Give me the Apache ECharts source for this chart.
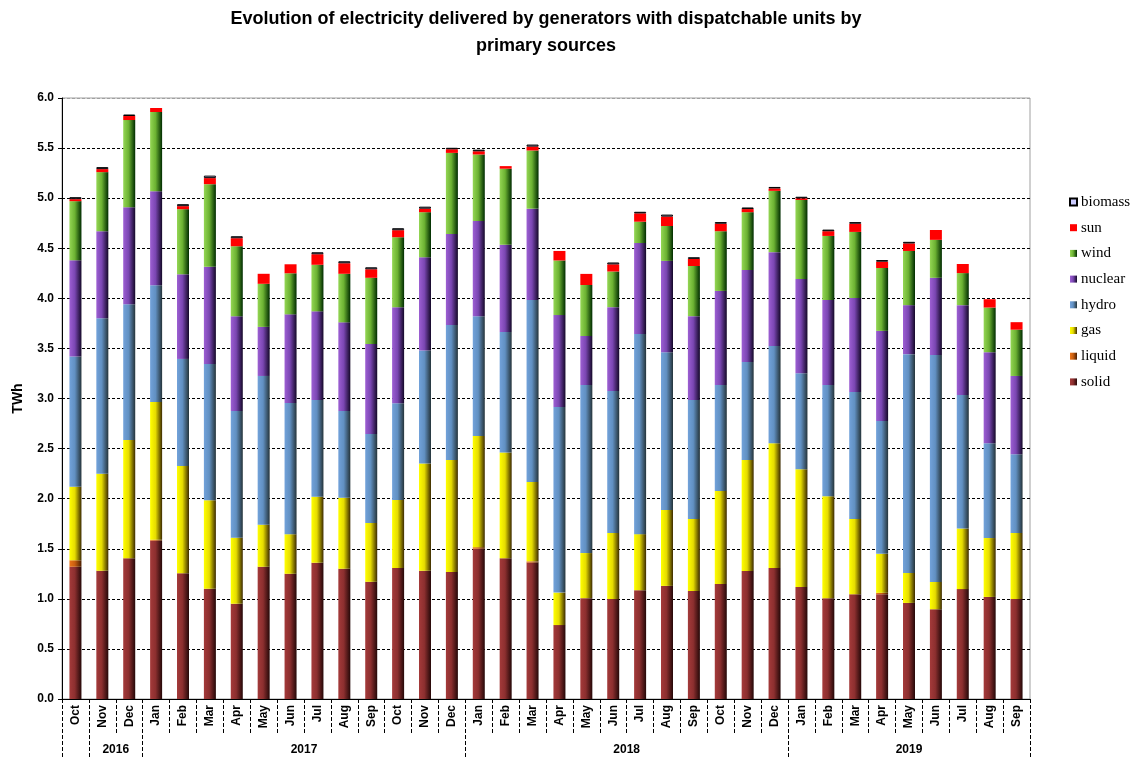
<!DOCTYPE html>
<html>
<head>
<meta charset="utf-8">
<script src="https://cdn.jsdelivr.net/npm/echarts@6/dist/echarts.min.js"></script>
<style>
html,body{margin:0;padding:0;background:#fff;}
#chart{width:1136px;height:758px;}
</style>
</head>
<body>
<div id="chart"></div>
<script>
// ---- DATA (TWh) ----
const months = ['Oct','Nov','Dec','Jan','Feb','Mar','Apr','May','Jun','Jul','Aug','Sep',
                'Oct','Nov','Dec','Jan','Feb','Mar','Apr','May','Jun','Jul','Aug','Sep',
                'Oct','Nov','Dec','Jan','Feb','Mar','Apr','May','Jun','Jul','Aug','Sep'];
const yearLabels = ['', '2016', '2017', '2018', '2019'];
const yearGroupStarts = [0, 1, 3, 15, 27];   // category index where each year group starts
const yearGroupEnd = 36;

const solid   = [1.32,1.28,1.405,1.58,1.255,1.10,0.95,1.32,1.25,1.36,1.30,1.17,
                 1.307,1.28,1.267,1.50,1.405,1.362,0.738,1.007,0.999,1.086,1.129,1.078,
                 1.149,1.279,1.307,1.117,1.007,1.046,1.046,0.959,0.896,1.097,1.019,0.999];
const liquid  = [0.065,0,0,0.01,0,0,0,0,0,0,0,0,
                 0,0,0,0.016,0,0.012,0,0,0,0,0,0,
                 0,0,0,0,0,0,0.014,0,0,0,0,0];
const gas     = [0.735,0.97,1.18,1.375,1.07,0.885,0.66,0.42,0.395,0.66,0.71,0.587,
                 0.679,1.07,1.118,1.109,1.055,0.793,0.324,0.45,0.659,0.56,0.758,0.718,
                 0.928,1.106,1.247,1.177,1.018,0.75,0.389,0.30,0.273,0.605,0.588,0.659];
const hydro   = [1.30,1.55,1.355,1.165,1.07,1.36,1.265,1.485,1.31,0.965,0.865,0.888,
                 0.967,1.13,1.35,1.195,1.203,1.816,1.852,1.678,1.417,1.998,1.575,1.189,
                 1.058,0.979,0.971,0.959,1.11,1.268,1.326,2.184,2.266,1.334,0.947,0.786];
const nuclear = [0.96,0.87,0.97,0.94,0.845,0.97,0.945,0.49,0.885,0.885,0.885,0.90,
                 0.959,0.93,0.908,0.953,0.873,0.912,0.919,0.489,0.837,0.908,0.912,0.837,
                 0.939,0.919,0.936,0.94,0.848,0.939,0.90,0.489,0.77,0.896,0.908,0.781];
const wind    = [0.59,0.59,0.87,0.79,0.65,0.825,0.70,0.43,0.41,0.465,0.485,0.66,
                 0.698,0.45,0.809,0.663,0.758,0.581,0.545,0.509,0.356,0.213,0.348,0.501,
                 0.596,0.577,0.612,0.789,0.64,0.66,0.628,0.541,0.379,0.32,0.446,0.462];
const sun     = [0.02,0.03,0.04,0.04,0.03,0.06,0.08,0.10,0.09,0.105,0.105,0.085,
                 0.07,0.035,0.036,0.032,0.026,0.039,0.095,0.111,0.071,0.083,0.094,0.071,
                 0.075,0.031,0.024,0.016,0.047,0.082,0.063,0.075,0.098,0.091,0.083,0.075];
const biomass = [0.02,0.02,0.015,0,0.02,0.025,0.02,0,0,0.02,0.02,0.02,
                 0.02,0.02,0.015,0.016,0,0.02,0,0,0.019,0.016,0.02,0.016,
                 0.016,0.016,0.015,0.016,0.016,0.016,0.016,0.016,0,0,0,0];

const yTicks = { min: 0, max: 6, interval: 0.5 };

// ---- STYLE ----
function grad(c0, c1, c2) {
  return new echarts.graphic.LinearGradient(0, 0, 1, 0, [
    { offset: 0, color: c0 }, { offset: 0.45, color: c1 }, { offset: 1, color: c2 }
  ]);
}
const FONT = '"Liberation Sans", Arial, sans-serif';
const seriesDefs = [
  { name: 'solid',   data: solid,   color: grad('#a43a3a', '#8c2f2f', '#250808') },
  { name: 'liquid',  data: liquid,  color: grad('#ec7418', '#c85e10', '#4a1e00') },
  { name: 'gas',     data: gas,     color: grad('#ffff00', '#e6dc00', '#3c2a00') },
  { name: 'hydro',   data: hydro,   color: grad('#72a2da', '#6190c2', '#25343a') },
  { name: 'nuclear', data: nuclear, color: grad('#9d5fd3', '#7a46b2', '#140828') },
  { name: 'wind',    data: wind,    color: grad('#94d654', '#6cb232', '#002c00') },
  { name: 'sun',     data: sun,     color: '#ff0000' },
  { name: 'biomass', data: biomass, color: '#ccccff', border: true }
];

const series = seriesDefs.map(d => ({
  name: d.name,
  type: 'bar',
  stack: 'total',
  barWidth: 12,
  xAxisIndex: 0,
  data: d.data.map(v => (v === 0 ? '-' : v)),
  itemStyle: d.border
    ? { color: d.color, borderColor: '#000', borderWidth: 1 }
    : { color: d.color },
  emphasis: { disabled: true }
}));

const yearCenters = {};
yearGroupStarts.forEach((s, i) => {
  const e = i + 1 < yearGroupStarts.length ? yearGroupStarts[i + 1] : yearGroupEnd;
  yearCenters[((s + e) / 2).toFixed(1)] = yearLabels[i];
});

const nSplit = Math.round((yTicks.max - yTicks.min) / yTicks.interval) + 1;
const splitColors = Array.from({ length: nSplit }, (_, i) => (i === nSplit - 1 ? '#a0a0a0' : '#000'));

const chart = echarts.init(document.getElementById('chart'), null, { renderer: 'canvas' });
chart.setOption({
  animation: false,
  backgroundColor: '#fff',
  title: {
    text: 'Evolution of electricity delivered by generators with dispatchable units by\nprimary sources',
    left: 541,
    top: 1,
    textAlign: 'center',
    textStyle: { fontFamily: FONT, fontWeight: 'bold', fontSize: 18, color: '#000', lineHeight: 27 }
  },
  legend: {
    orient: 'vertical',
    left: 1069,
    top: 194,
    padding: 0,
    itemWidth: 7,
    itemHeight: 7,
    itemGap: 9.7,
    icon: 'rect',
    data: ['biomass', 'sun', 'wind', 'nuclear', 'hydro', 'gas', 'liquid', 'solid'],
    textStyle: { fontFamily: '"Liberation Serif", "Times New Roman", serif', fontSize: 15, lineHeight: 16, color: '#000', padding: [0, 0, 0, -1] }
  },
  grid: {
    left: 62, right: 106, top: 98, bottom: 59,
    show: true, borderColor: '#a0a0a0', borderWidth: 1, backgroundColor: 'transparent'
  },
  xAxis: [
    {
      type: 'category',
      data: months,
      position: 'bottom',
      axisLine: { show: true, lineStyle: { color: '#000', width: 1 } },
      axisTick: { show: true, interval: 0, length: 36, lineStyle: { color: '#000', type: 'dashed', width: 1 } },
      axisLabel: { interval: 0, rotate: 90, margin: 6, fontFamily: FONT, fontWeight: 'bold', fontSize: 12, color: '#000' },
      splitLine: { show: false }
    },
    {
      type: 'category',
      data: months,
      position: 'bottom',
      axisLine: { show: false },
      axisTick: { show: true, interval: (i) => yearGroupStarts.indexOf(i) >= 0, length: 60,
                  lineStyle: { color: '#000', type: 'dashed', width: 1 } },
      axisLabel: { show: false },
      splitLine: { show: false }
    },
    {
      type: 'value',
      min: 0, max: yearGroupEnd, interval: 0.5,
      position: 'bottom',
      axisLine: { show: false },
      axisTick: { show: false },
      splitLine: { show: false },
      axisLabel: {
        margin: 45,
        fontFamily: FONT, fontWeight: 'bold', fontSize: 12, color: '#000',
        showMinLabel: true, showMaxLabel: true,
        formatter: (v) => yearCenters[Number(v).toFixed(1)] || ''
      }
    }
  ],
  yAxis: {
    type: 'value',
    min: yTicks.min, max: yTicks.max, interval: yTicks.interval,
    name: 'TWh',
    nameLocation: 'middle',
    nameGap: 37,
    nameTextStyle: { fontFamily: FONT, fontWeight: 'bold', fontSize: 14, color: '#000' },
    axisLine: { show: true, lineStyle: { color: '#000', width: 1 } },
    axisTick: { show: true, length: 4, lineStyle: { color: '#000' } },
    axisLabel: { margin: 8, fontFamily: FONT, fontWeight: 'bold', fontSize: 12, color: '#000',
                 formatter: (v) => v.toFixed(1) },
    splitLine: { show: true, lineStyle: { color: splitColors, type: [3, 2], width: 1 } }
  },
  series: series
});
</script>
</body>
</html>
